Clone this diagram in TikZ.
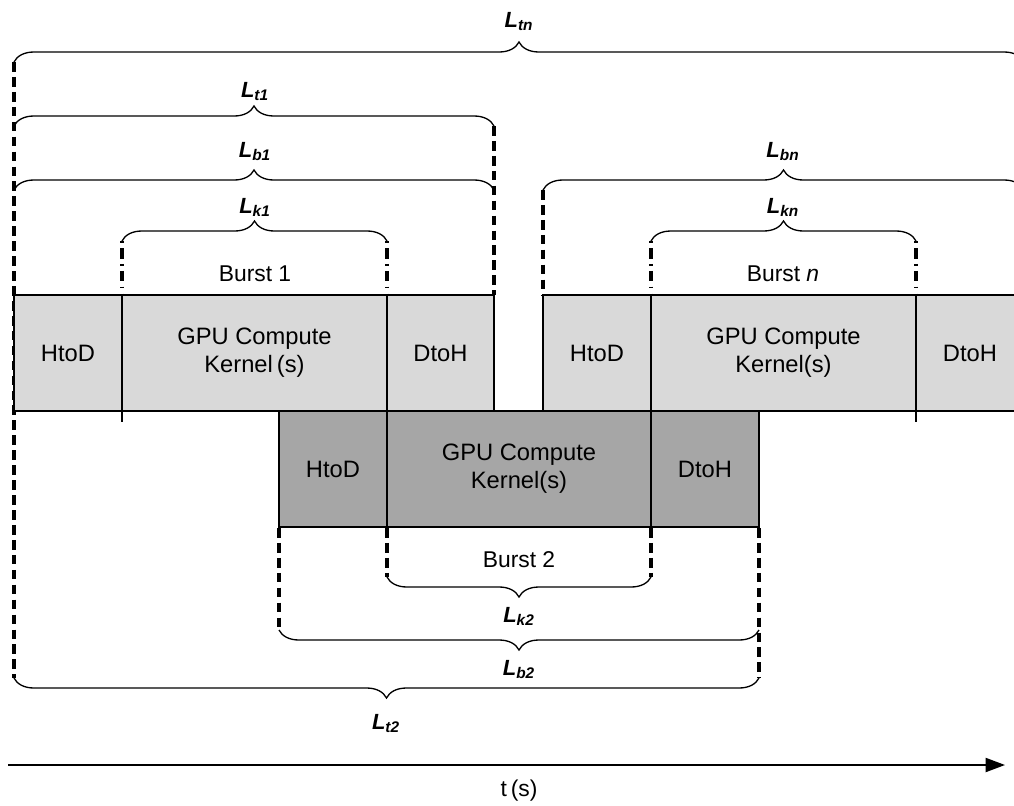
\documentclass[tikz,border=0pt]{standalone}
\usepackage{fontspec}
\setmainfont{Liberation Sans}
\usepackage{tikz}
\usetikzlibrary{arrows.meta,calc,decorations.pathreplacing,positioning}
\definecolor{light}{HTML}{D9D9D9}
\definecolor{dark}{HTML}{A6A6A6}
\newcommand{\Lsub}[1]{\textbf{\textit{L\textsubscript{#1}}}}

\begin{document}
\begin{tikzpicture}[x=0.02cm,y=-0.02cm,
  seg/.style={draw,line width=1.1pt,minimum height=2.32cm,inner sep=0pt,outer sep=0pt,
    align=center,font=\fontsize{13.5}{16}\selectfont},
  lite/.style={seg,fill=light},
  drk/.style={seg,fill=dark},
  brc/.style={decorate,decoration={brace,amplitude=0.4cm},line width=0.75pt},
  guide/.style={line width=2pt,dash pattern=on 5.5pt off 3pt},
  guidedot/.style={line width=2pt,dash pattern=on 1pt off 3pt on 6pt off 3pt},
  lab/.style={anchor=base,font=\fontsize{12.5}{14}\selectfont},
  burst/.style={anchor=base,font=\fontsize{13}{15}\selectfont}]
  \useasboundingbox (0,0) rectangle (1014,805);
  % end points of the braces
  \coordinate (tnA) at (14,62);   \coordinate (tnB) at (1024,62);
  \coordinate (t1A) at (14,126);  \coordinate (t1B) at (494,126);
  \coordinate (b1A) at (14,190);  \coordinate (b1B) at (494,190);
  \coordinate (k1A) at (122,241); \coordinate (k1B) at (387,241);
  \coordinate (bnA) at (543,190); \coordinate (bnB) at (1024,190);
  \coordinate (knA) at (651,241); \coordinate (knB) at (916,241);
  \coordinate (k2A) at (387,577); \coordinate (k2B) at (651,577);
  \coordinate (b2A) at (279,630); \coordinate (b2B) at (759,630);
  \coordinate (t2A) at (14,678);  \coordinate (t2B) at (759,678);
  % guide lines
  \draw[guide] (tnA) -- (t2A);
  \draw[guide] (t1B) -- (494,295);
  \draw[guide] (bnA) -- (543,295);
  \draw[guidedot] (k1A) -- (122,295);
  \draw[guidedot] (k1B) -- (387,295);
  \draw[guidedot] (knA) -- (651,295);
  \draw[guidedot] (knB) -- (916,295);
  \draw[guide] (279,528) -- (b2A);
  \draw[guide] (759,528) -- (t2B);
  \draw[guide] (387,528) -- (k2A);
  \draw[guide] (651,528) -- (k2B);
  % burst 1
  \node[lite,minimum width=2.16cm,anchor=north west] (h1) at (14,295) {HtoD};
  \node[lite,minimum width=5.3cm,right=0pt of h1] (k1) {GPU Compute\\Kernel\,(s)};
  \node[lite,minimum width=2.14cm,right=0pt of k1] (d1) {DtoH};
  % burst n
  \node[lite,minimum width=2.16cm,anchor=north west] (hn) at (543,295) {HtoD};
  \node[lite,minimum width=5.3cm,right=0pt of hn] (kn) {GPU Compute\\Kernel(s)};
  \node[lite,minimum width=2.16cm,right=0pt of kn] (dn) {DtoH};
  \draw[line width=1.1pt] (k1.south west) -- ++(0,11);
  \draw[line width=1.1pt] (dn.south west) -- ++(0,11);
  % burst 2
  \node[drk,minimum width=2.16cm,anchor=north west] (h2) at (279,411) {HtoD};
  \node[drk,minimum width=5.28cm,right=0pt of h2] (k2) {GPU Compute\\Kernel(s)};
  \node[drk,minimum width=2.16cm,right=0pt of k2] (d2) {DtoH};
  \node[burst] (n1) at (255,281) {Burst 1};
  \node[burst] (nn) at (783,281) {Burst \textit{n}};
  \node[burst] (n2) at (519,567) {Burst 2};
  % braces
  \draw[brc] (tnA) -- (tnB);
  \draw[brc] (t1A) -- (t1B);
  \draw[brc] (b1A) -- (b1B);
  \draw[brc] (k1A) -- (k1B);
  \draw[brc] (bnA) -- (bnB);
  \draw[brc] (knA) -- (knB);
  \draw[brc] (k2B) -- (k2A);
  \draw[brc] (b2B) -- (b2A);
  \draw[brc] (t2B) -- (t2A);
  \node[lab] (Ltn) at (519,27) {\Lsub{tn}};
  \node[lab] (Lt1) at (255,97) {\Lsub{t1}};
  \node[lab] (Lb1) at (255,157) {\Lsub{b1}};
  \node[lab] (Lk1) at (255,213) {\Lsub{k1}};
  \node[lab] (Lbn) at (783,157) {\Lsub{bn}};
  \node[lab] (Lkn) at (783,213) {\Lsub{kn}};
  \node[lab] (Lk2) at (519,622) {\Lsub{k2}};
  \node[lab] (Lb2) at (519,675) {\Lsub{b2}};
  \node[lab] (Lt2) at (386,729) {\Lsub{t2}};
  % time axis
  \coordinate (t0) at (8,765);
  \coordinate (tE) at (1005,765);
  \draw[line width=1pt,-{Triangle[length=11pt,width=8pt]}] (t0) -- (tE);
  \node[burst] (tl) at (519,796) {t\,(s)};
\end{tikzpicture}
\end{document}
